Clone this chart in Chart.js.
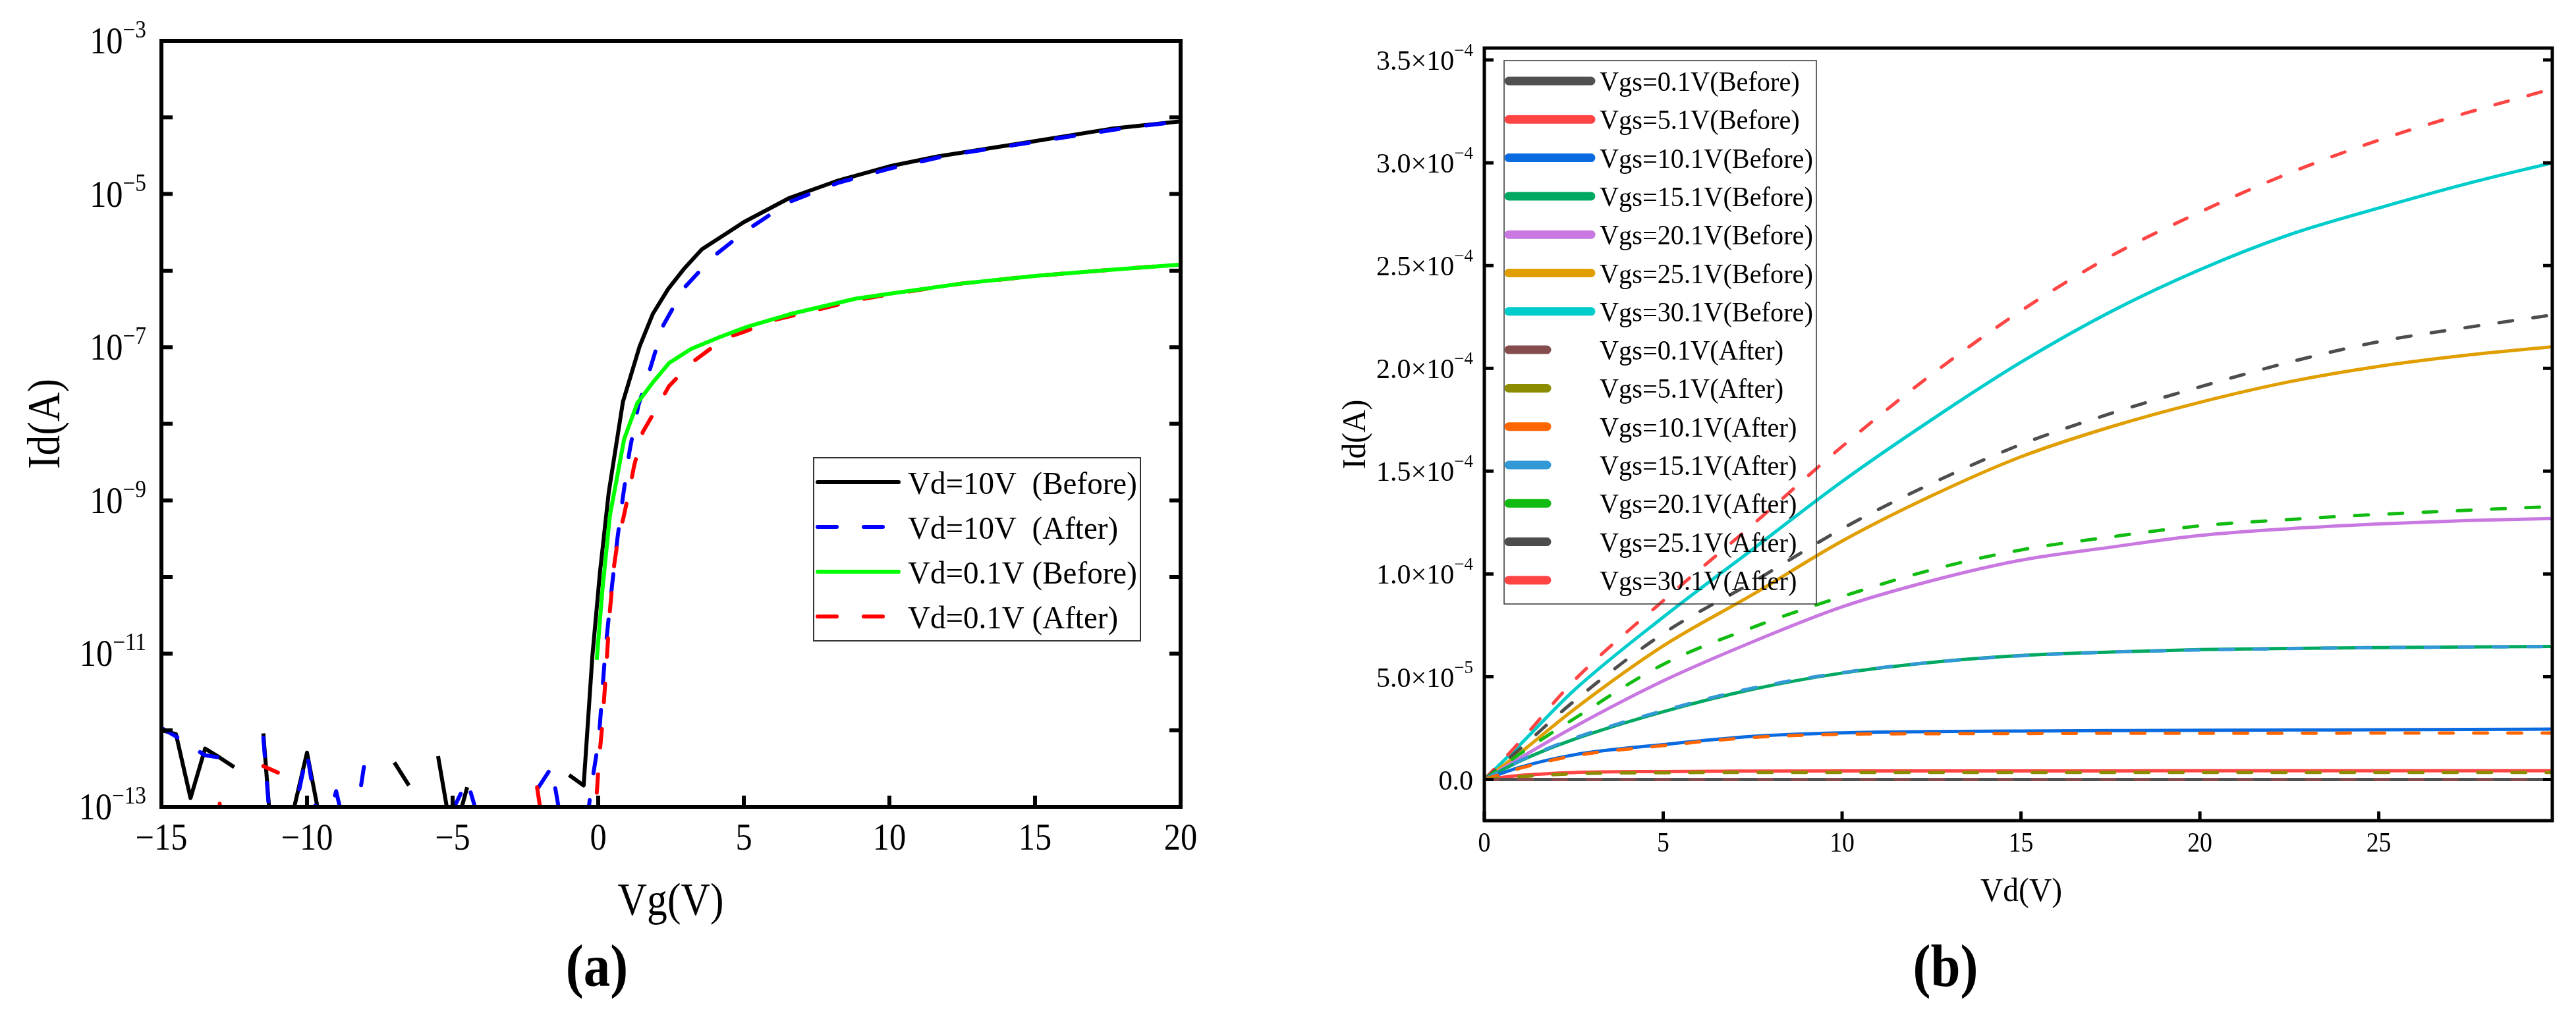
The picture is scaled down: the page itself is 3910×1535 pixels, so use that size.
<!DOCTYPE html>
<html>
<head>
<meta charset="utf-8">
<script src="https://cdn.jsdelivr.net/npm/chart.js@4.4.1/dist/chart.umd.min.js"></script>
<style>
  body { margin: 0; background: #fff; }
  #wrap { position: relative; width: 3910px; height: 1535px; }
  canvas { position: absolute; top: 0; }
</style>
</head>
<body>
<div id="wrap">
  <canvas id="chartA" width="1955" height="1535" style="left:0"></canvas>
  <canvas id="chartB" width="1955" height="1535" style="left:1955px"></canvas>
</div>
<script>
// ---------- (a) transfer curves, Id vs Vg ----------
const vgBefore10 = [-15, -14.5, -14, -13.5, -13, -12.5, -12, -11.5, -11, -10.5, -10, -9.5, -9, -7, -6.5, -6, -5.5, -5, -4.5, -4,
  -1.5, -1.0, -0.5, -0.2, 0.06, 0.36, 0.85, 1.42, 1.87, 2.4, 2.96, 3.56, 4.54, 5.0, 6.57, 8.26, 10, 11.66, 15, 17.6, 20];
const idBefore10 = [1.0e-12, 8.9e-13, 1.3e-13, 5.75e-13, 4.4e-13, 3.3e-13, null, 9.1e-13, 3.2e-15, 7.9e-14, 5.1e-13, 5.2e-14, null, 3.8e-13, 1.9e-13, null, 4.6e-13, 3.6e-14, 1.8e-13, null,
  null, 2.6e-13, 1.9e-13, 9.3e-12, 1.15e-10, 1.26e-9, 1.95e-8, 1.02e-7, 2.7e-7, 5.75e-7, 1.07e-6, 1.9e-6, 3.3e-6, 4.3e-6, 8.9e-6, 1.51e-5, 2.3e-5, 3.1e-5, 4.9e-5, 7.1e-5, 8.9e-5];

const vgAfter10 = [-15, -14.5, -14, -13.5, -13, -12.5, -11.5, -11, -10.5, -10, -9.5, -9, -8.5, -8, -7.5, -5.5, -5, -4.5, -4, -3.5,
  -2.5, -2.05, -1.6, -1.0, -0.5, -0.25, 0.02, 0.25, 0.48, 0.66, 0.85, 1.08, 1.38, 1.76, 2.24, 2.96, 3.94, 5.06, 6.57, 8.26, 10, 12, 15, 18, 20];
const idAfter10 = [1.07e-12, 8.3e-13, 6.2e-13, 4.7e-13, 4.4e-13, null, 8.0e-13, 3.2e-15, 6.3e-14, 5.1e-13, 3.2e-14, 1.6e-13, 2.5e-14, 4.3e-13, null, null, 9.0e-14, 2.2e-13, 5.0e-14, null,
  null, 1.8e-13, 3.3e-13, 1.6e-14, 2.5e-14, 1.7e-13, 7.6e-13, 1.15e-11, 8.1e-11, 3.2e-10, 1.12e-9, 4.5e-9, 1.74e-8, 4.9e-8, 1.95e-7, 6.0e-7, 1.51e-6, 3.3e-6, 7.9e-6, 1.41e-5, 2.14e-5, 3.2e-5, 4.8e-5, 7.2e-5, 8.9e-5];

const vgBefore01 = [-0.05, 0.14, 0.4, 0.89, 1.34, 1.91, 2.43, 3.19, 4.16, 5.06, 6.58, 8.84, 10, 12.5, 15, 17.5, 20];
const idBefore01 = [8.3e-12, 6.5e-11, 6.3e-10, 6.3e-9, 1.86e-8, 3.6e-8, 6.2e-8, 9.5e-8, 1.35e-7, 1.82e-7, 2.7e-7, 4.3e-7, 5.0e-7, 6.8e-7, 8.5e-7, 1.02e-6, 1.2e-6];

const vgAfter01 = [-13.5, -13, -12.5, -12, -11.5, -11, -10.5, -2.5, -2.1, -1.6, -1.0, -0.5, -0.25, 0.02, 0.14, 0.25, 0.4, 0.55, 0.7, 0.85,
  1.08, 1.23, 1.53, 2.06, 2.43, 3.19, 4.32, 5.06, 6.12, 7.71, 8.84, 10, 12.5, 15, 17.5, 20];
const idAfter01 = [null, 1.1e-13, 1.0e-14, null, 3.4e-13, 2.8e-13, null, null, 1.8e-13, 1.0e-14, null, null, 1.0e-14, 3.8e-13, 1.17e-12, 4.7e-12, 3.6e-11, 1.45e-10, 3.6e-10, 5.6e-10,
  1.4e-9, 2.8e-9, 7.8e-9, 1.74e-8, 3.1e-8, 6.2e-8, 1.29e-7, 1.62e-7, 2.3e-7, 3.2e-7, 4.1e-7, 4.9e-7, 6.8e-7, 8.5e-7, 1.02e-6, 1.2e-6];

const vgTicks = [-15, -10, -5, 0, 5, 10, 15, 20];
const vgTickLabels = ['\u221215', '\u221210', '\u22125', '0', '5', '10', '15', '20'];
const idDecades = [1e-13, 1e-12, 1e-11, 1e-10, 1e-9, 1e-8, 1e-7, 1e-6, 1e-5, 1e-4, 1e-3];
const idLabelVals = [1e-13, 1e-11, 1e-9, 1e-7, 1e-5, 1e-3];
const idLabelExps = ['\u221213', '\u221211', '\u22129', '\u22127', '\u22125', '\u22123'];

// ---------- (b) output curves, Id vs Vd ----------
const vd = [0, 1, 2.5, 5, 7.5, 10, 12.5, 15, 17.5, 20, 22.5, 25, 27.5, 29.85];
const vgsLabels = ['0.1', '5.1', '10.1', '15.1', '20.1', '25.1', '30.1'];
const idBefore = [
  [0, 0, 0, 0, 0, 0, 0, 0, 0, 0, 0, 0, 0, 0],
  [0, 2.0e-6, 3.4e-6, 3.9e-6, 4.1e-6, 4.2e-6, 4.2e-6, 4.2e-6, 4.2e-6, 4.3e-6, 4.3e-6, 4.3e-6, 4.3e-6, 4.3e-6],
  [0, 6.0e-6, 1.2e-5, 1.7e-5, 2.1e-5, 2.27e-5, 2.33e-5, 2.36e-5, 2.38e-5, 2.4e-5, 2.41e-5, 2.42e-5, 2.44e-5, 2.45e-5],
  [0, 9.0e-6, 1.95e-5, 3.3e-5, 4.39e-5, 5.18e-5, 5.7e-5, 6.03e-5, 6.2e-5, 6.32e-5, 6.38e-5, 6.42e-5, 6.45e-5, 6.47e-5],
  [0, 1.05e-5, 2.55e-5, 4.8e-5, 6.7e-5, 8.4e-5, 9.67e-5, 1.067e-4, 1.13e-4, 1.187e-4, 1.22e-4, 1.243e-4, 1.26e-4, 1.27e-4],
  [0, 1.3e-5, 3.4e-5, 6.5e-5, 9.0e-5, 1.16e-4, 1.38e-4, 1.57e-4, 1.715e-4, 1.835e-4, 1.935e-4, 2.01e-4, 2.065e-4, 2.105e-4],
  [0, 1.7e-5, 4.33e-5, 7.9e-5, 1.12e-4, 1.45e-4, 1.75e-4, 2.03e-4, 2.275e-4, 2.48e-4, 2.65e-4, 2.78e-4, 2.9e-4, 3.0e-4]
];
const idAfter = [
  [0, 0, 0, 0, 0, 0, 0, 0, 0, 0, 0, 0, 0, 0],
  [0, 1.4e-6, 2.8e-6, 3.3e-6, 3.5e-6, 3.5e-6, 3.5e-6, 3.5e-6, 3.5e-6, 3.5e-6, 3.5e-6, 3.5e-6, 3.5e-6, 3.5e-6],
  [0, 5.5e-6, 1.15e-5, 1.65e-5, 2.05e-5, 2.2e-5, 2.23e-5, 2.24e-5, 2.25e-5, 2.25e-5, 2.25e-5, 2.26e-5, 2.26e-5, 2.26e-5],
  [0, 9.2e-6, 2.0e-5, 3.35e-5, 4.45e-5, 5.2e-5, 5.7e-5, 6.02e-5, 6.2e-5, 6.3e-5, 6.37e-5, 6.42e-5, 6.45e-5, 6.47e-5],
  [0, 1.25e-5, 2.95e-5, 5.6e-5, 7.4e-5, 8.9e-5, 1.02e-4, 1.117e-4, 1.18e-4, 1.234e-4, 1.265e-4, 1.29e-4, 1.31e-4, 1.328e-4],
  [0, 1.5e-5, 3.8e-5, 7.1e-5, 9.6e-5, 1.22e-4, 1.44e-4, 1.63e-4, 1.78e-4, 1.91e-4, 2.03e-4, 2.13e-4, 2.2e-4, 2.26e-4],
  [0, 1.85e-5, 4.8e-5, 8.7e-5, 1.24e-4, 1.62e-4, 1.97e-4, 2.28e-4, 2.545e-4, 2.76e-4, 2.95e-4, 3.11e-4, 3.245e-4, 3.36e-4]
];
const colorsBefore = ['#505050', '#ff4444', '#0a6ae0', '#00a862', '#c878e0', '#e09e00', '#00cccc'];
const colorsAfter = ['#844c4c', '#8c8c00', '#ff6600', '#3399d6', '#11bb11', '#4d4d4d', '#ff4444'];

const vdTicks = [0, 5, 10, 15, 20, 25];
const vdTickLabels = ['0', '5', '10', '15', '20', '25'];
const idbTicks = [0, 0.5e-4, 1.0e-4, 1.5e-4, 2.0e-4, 2.5e-4, 3.0e-4, 3.5e-4];
const idbMant = ['0.0', '5.0\u00d710', '1.0\u00d710', '1.5\u00d710', '2.0\u00d710', '2.5\u00d710', '3.0\u00d710', '3.5\u00d710'];
const idbExp = ['', '\u22125', '\u22124', '\u22124', '\u22124', '\u22124', '\u22124', '\u22124'];

const FONT = '"Liberation Serif", "DejaVu Serif", serif';

function pts(xs, ys) {
  return xs.map((x, i) => ({ x: x, y: ys[i] }));
}

function drawText(ctx, s, x, y, size, align, sx, bold) {
  ctx.save();
  ctx.font = (bold ? 'bold ' : '') + size + 'px ' + FONT;
  ctx.textAlign = align;
  ctx.textBaseline = 'alphabetic';
  ctx.fillStyle = '#000';
  ctx.translate(x, y);
  ctx.scale(sx, 1);
  ctx.fillText(s, 0, 0);
  ctx.restore();
}

function textWidth(ctx, s, size) {
  ctx.save();
  ctx.font = size + 'px ' + FONT;
  const w = ctx.measureText(s).width;
  ctx.restore();
  return w;
}

// mantissa + superscript exponent, right aligned at xr
function drawPow(ctx, mant, exp, xr, yc, c) {
  const w2 = exp ? textWidth(ctx, exp, c.supSize) * c.sx : 0;
  const w1 = textWidth(ctx, mant, c.size) * c.sx;
  drawText(ctx, mant, xr - w2 - w1, yc + c.base, c.size, 'left', c.sx);
  if (exp) drawText(ctx, exp, xr - w2, yc + c.supBase, c.supSize, 'left', c.sx);
}

// frame, inward ticks, labels, titles and legend in the Origin look
function makeAxes(cfg) {
  return {
    id: 'paperAxes',
    afterDraw(chart) {
      const ctx = chart.ctx;
      const a = chart.chartArea;
      const xs = chart.scales.x, ys = chart.scales.y;
      ctx.save();
      ctx.strokeStyle = '#000';
      ctx.lineCap = 'butt';
      ctx.lineWidth = cfg.tickWidth;
      ctx.beginPath();
      cfg.yMarks.forEach(v => {
        const py = ys.getPixelForValue(v);
        ctx.moveTo(a.left, py); ctx.lineTo(a.left + cfg.tickLen, py);
        ctx.moveTo(a.right, py); ctx.lineTo(a.right - cfg.tickLen, py);
      });
      cfg.xMarks.forEach(v => {
        const px = xs.getPixelForValue(v);
        ctx.moveTo(px, a.bottom); ctx.lineTo(px, a.bottom - cfg.tickLen);
      });
      ctx.stroke();
      ctx.lineWidth = cfg.frameWidth;
      ctx.lineJoin = 'miter';
      ctx.strokeRect(a.left, a.top, a.right - a.left, a.bottom - a.top);

      // x tick labels
      cfg.xMarks.forEach((v, i) => {
        drawText(ctx, cfg.xLabels[i], xs.getPixelForValue(v), cfg.xLabelBase, cfg.xLabelSize, 'center', cfg.sx);
      });
      // y tick labels
      cfg.yLabelVals.forEach((v, i) => {
        drawPow(ctx, cfg.yMant[i], cfg.yExp[i], cfg.yLabelRight, ys.getPixelForValue(v), cfg.yLabel);
      });

      // axis titles and panel caption
      drawText(ctx, cfg.xTitle, cfg.xTitleX, cfg.xTitleBase, cfg.titleSize, 'center', cfg.titleSx);
      ctx.save();
      ctx.translate(cfg.yTitleBase, (a.top + a.bottom) / 2);
      ctx.rotate(-Math.PI / 2);
      drawText(ctx, cfg.yTitle, 0, 0, cfg.titleSize, 'center', cfg.titleSx);
      ctx.restore();
      drawText(ctx, cfg.caption, cfg.captionX, cfg.captionBase, cfg.captionSize, 'center', 0.88, true);

      // legend
      const L = cfg.legend;
      ctx.lineWidth = L.boxWidth;
      ctx.strokeStyle = '#333';
      ctx.strokeRect(L.box[0], L.box[1], L.box[2] - L.box[0], L.box[3] - L.box[1]);
      chart.data.datasets.forEach((ds, i) => {
        const yy = L.y0 + i * L.dy;
        ctx.save();
        ctx.strokeStyle = ds.borderColor;
        ctx.lineWidth = L.lineWidth;
        ctx.lineCap = 'round';
        const x1 = (L.shortAfter && ds.borderDash) ? L.shortEnd : L.x1;
        if (ds.borderDash && !L.shortAfter) ctx.setLineDash(L.dash);
        ctx.beginPath();
        ctx.moveTo(L.x0, yy);
        ctx.lineTo(x1, yy);
        ctx.stroke();
        ctx.restore();
        drawText(ctx, ds.label, L.textX, yy + L.base, L.size, 'left', L.sx);
      });
      ctx.restore();
    }
  };
}

// ---------- chart (a) ----------
new Chart(document.getElementById('chartA'), {
  type: 'line',
  data: {
    datasets: [
      { label: 'Vd=10V  (Before)', data: pts(vgBefore10, idBefore10), borderColor: '#000000', borderWidth: 6, order: 3 },
      { label: 'Vd=10V  (After)', data: pts(vgAfter10, idAfter10), borderColor: '#0000ff', borderWidth: 6,
        borderDash: [28, 41], borderCapStyle: 'round', order: 2 },
      { label: 'Vd=0.1V (Before)', data: pts(vgBefore01, idBefore01), borderColor: '#00ff00', borderWidth: 6, order: 0 },
      { label: 'Vd=0.1V (After)', data: pts(vgAfter01, idAfter01), borderColor: '#ff0000', borderWidth: 6,
        borderDash: [28, 41], borderCapStyle: 'round', order: 1 }
    ]
  },
  options: {
    responsive: false,
    animation: false,
    devicePixelRatio: 1,
    layout: { padding: { left: 245, right: 163, top: 62, bottom: 310 } },
    elements: { point: { radius: 0 }, line: { tension: 0, borderJoinStyle: 'round' } },
    plugins: { legend: { display: false }, tooltip: { enabled: false } },
    scales: {
      x: { type: 'linear', min: -15, max: 20, display: false },
      y: { type: 'logarithmic', min: 1e-13, max: 1e-3, display: false }
    }
  },
  plugins: [makeAxes({
    frameWidth: 6, tickWidth: 6, tickLen: 17, sx: 0.9,
    xMarks: vgTicks, xLabels: vgTickLabels, xLabelBase: 1290, xLabelSize: 56,
    yMarks: idDecades, yLabelVals: idLabelVals, yMant: idLabelVals.map(() => '10'), yExp: idLabelExps,
    yLabelRight: 222, yLabel: { size: 56, supSize: 37, sx: 0.9, base: 19, supBase: -5 },
    xTitle: 'Vg(V)', xTitleX: 1018, xTitleBase: 1389, yTitle: 'Id(A)', yTitleBase: 90,
    titleSize: 70, titleSx: 0.88,
    caption: '(a)', captionX: 906, captionBase: 1497, captionSize: 92,
    legend: { box: [1235, 695, 1731, 973], boxWidth: 2, x0: 1241, x1: 1364, lineWidth: 6, dash: [29, 41],
      y0: 732, dy: 68, textX: 1378, base: 18, size: 49, sx: 0.96, shortAfter: false }
  })]
});

// ---------- chart (b) ----------
const bDatasets = [];
vgsLabels.forEach((v, i) => {
  bDatasets.push({ label: 'Vgs=' + v + 'V(Before)', data: pts(vd, idBefore[i]), borderColor: colorsBefore[i],
    borderWidth: 5, order: 1 });
});
vgsLabels.forEach((v, i) => {
  bDatasets.push({ label: 'Vgs=' + v + 'V(After)', data: pts(vd, idAfter[i]), borderColor: colorsAfter[i],
    borderWidth: 5, borderDash: [21, 31], borderCapStyle: 'round', order: 0 });
});

new Chart(document.getElementById('chartB'), {
  type: 'line',
  data: { datasets: bDatasets },
  options: {
    responsive: false,
    animation: false,
    devicePixelRatio: 1,
    layout: { padding: { left: 298, right: 36, top: 73, bottom: 289 } },
    elements: { point: { radius: 0 }, line: { cubicInterpolationMode: 'monotone', borderJoinStyle: 'round' } },
    plugins: { legend: { display: false }, tooltip: { enabled: false } },
    scales: {
      x: { type: 'linear', min: 0, max: 29.85, display: false },
      y: { type: 'linear', min: -2.0e-5, max: 3.558e-4, display: false }
    }
  },
  plugins: [makeAxes({
    frameWidth: 5, tickWidth: 5, tickLen: 14, sx: 0.9,
    xMarks: vdTicks, xLabels: vdTickLabels, xLabelBase: 1293, xLabelSize: 42,
    yMarks: idbTicks, yLabelVals: idbTicks, yMant: idbMant, yExp: idbExp,
    yLabelRight: 281, yLabel: { size: 42, supSize: 27, sx: 1.0, base: 15, supBase: -6 },
    xTitle: 'Vd(V)', xTitleX: 1113, xTitleBase: 1368, yTitle: 'Id(A)', yTitleBase: 117,
    titleSize: 50, titleSx: 0.95,
    caption: '(b)', captionX: 998, captionBase: 1497, captionSize: 92,
    legend: { box: [328, 92, 802, 917], boxWidth: 1.5, x0: 335, x1: 460, shortEnd: 393, lineWidth: 13, dash: [],
      y0: 123, dy: 58.3, textX: 473, base: 15, size: 42, sx: 0.96, shortAfter: true }
  })]
});
</script>
</body>
</html>
